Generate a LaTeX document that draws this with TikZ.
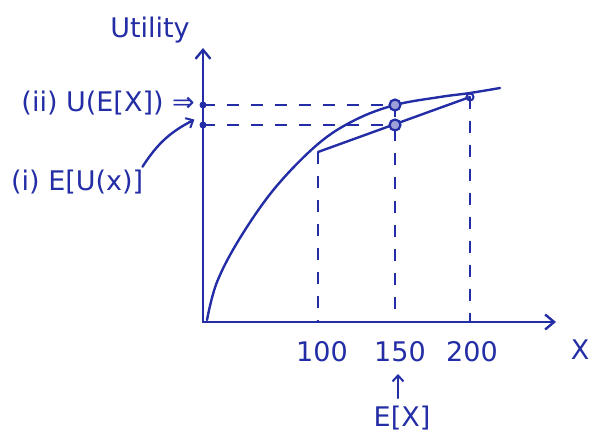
\documentclass[tikz,border=0pt]{standalone}
\usepackage{fontspec}
\setmainfont{DejaVu Sans}
\usetikzlibrary{arrows.meta}
\definecolor{ink}{RGB}{35,45,165}
\begin{document}
\begin{tikzpicture}[x=1pt,y=-1pt,
  inkline/.style={draw=ink,line width=2.4pt,line cap=round},
  guide/.style={draw=ink,line width=2.2pt,dash pattern=on 12pt off 12pt},
  lbl/.style={text=ink,font=\fontsize{27}{30}\selectfont,inner sep=1pt},
  axarrow/.style={-{Straight Barb[length=9pt,width=15pt,line width=2.4pt]}},
  smallarrow/.style={-{Straight Barb[length=6pt,width=11pt,line width=2pt]}},
  dotmark/.style={circle,fill=ink,inner sep=0pt,minimum size=7pt},
  ring/.style={circle,draw=ink,line width=2.2pt,fill=ink!45,inner sep=0pt,minimum size=11pt}]
\useasboundingbox (0,0) rectangle (594,435);
% axes
\coordinate (O) at (203,322);
\coordinate (ytip) at (203,48);
\coordinate (xtip) at (556,322);
\draw[inkline,axarrow] (O) -- (ytip);
\draw[inkline,axarrow] (O) -- (xtip);
% key points
\coordinate (A) at (318,152);
\coordinate (B) at (470,97);
\coordinate (C) at (395,105);
\coordinate (D) at (395,125);
\coordinate (yU) at (203,105);
\coordinate (yE) at (203,125);
\coordinate (xA) at (318,322);
\coordinate (xC) at (395,322);
\coordinate (xB) at (470,322);
% utility curve
\draw[inkline] plot[smooth,tension=0.6] coordinates
  {(207,320) (217,282) (240,238) (275,188) (318,144) (355,120) (395,105) (440,97) (470,93) (500,88)};
% chord
\draw[inkline] (A) -- (B);
% guides
\draw[guide] (yU) -- (C);
\draw[guide] (yE) -- (D);
\draw[guide] (A) -- (xA);
\draw[guide] (C) -- (xC);
\draw[guide] (B) -- (xB);
% marks
\node[ring] (mC) at (C) {};
\node[ring] (mD) at (D) {};
\node[circle,draw=ink,line width=2pt,inner sep=0pt,minimum size=7pt] (mB) at (B) {};
\node[dotmark] (dU) at (yU) {};
\node[dotmark] (dE) at (yE) {};
% labels
\node[lbl] (util) at (150,30) {Utility};
\node[lbl,anchor=east] (ii) at (196,103) {(ii) U(E[X]) ⇒};
\node[lbl,anchor=west] (i) at (10,182) {(i) E[U(x)]};
\draw[inkline,smallarrow] ([xshift=-2pt,yshift=2pt]i.north east) to[bend left=15] ([xshift=-6pt,yshift=8pt]dE.south west);
\node[lbl] (l100) at (322,352) {100};
\node[lbl] (l150) at (400,352) {150};
\node[lbl] (l200) at (472,352) {200};
\node[lbl] (lX) at (580,350) {X};
\node[lbl] (EX) at (402,418) {E[X]};
\coordinate (arrT) at (398,398);
\coordinate (arrH) at (398,374);
\draw[inkline,smallarrow] (arrT) -- (arrH);
\end{tikzpicture}
\end{document}
